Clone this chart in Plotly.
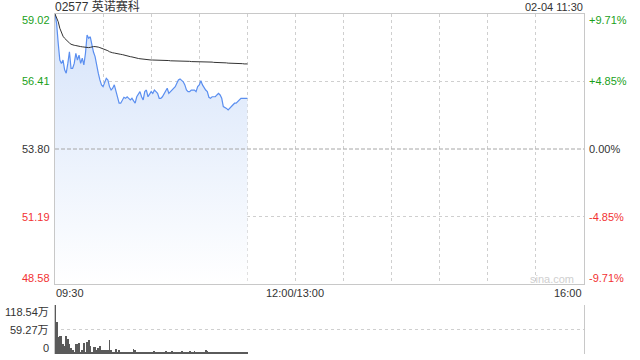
import plotly.graph_objects as go

# ---------------- data ----------------
title_text = "02577 英诺赛科"
date_text = "02-04 11:30"
prev_close = 53.80
price_ticks = [59.02, 56.41, 53.80, 51.19, 48.58]
pct_labels = ["+9.71%", "+4.85%", "0.00%", "-4.85%", "-9.71%"]
vol_ticks = [118.54, 59.27, 0]
vol_labels = ["118.54万", "59.27万", "0"]
time_labels = ["09:30", "12:00/13:00", "16:00"]
time_label_minutes = [0, 150, 330]

price = [
    59.02, 58.66, 57.89, 57.24, 57.11, 57.24, 56.86, 56.73, 57.11, 57.56,
    56.92, 56.92, 57.11, 57.50, 57.24, 57.43, 57.11, 57.31, 57.05, 57.50,
    58.21, 58.08, 58.14, 57.76, 57.55, 57.37, 56.98, 56.73, 56.47, 56.28,
    56.21, 56.40, 56.53, 56.47, 56.21, 56.08, 56.15, 56.28, 56.02, 55.76,
    55.57, 55.57, 55.70, 55.80, 55.76, 55.82, 55.76, 55.70, 55.76, 55.66,
    55.57, 55.82, 55.95, 56.02, 55.82, 55.70, 56.02, 56.08, 55.82, 55.95,
    56.02, 55.95, 56.08, 56.02, 55.95, 55.76, 55.76, 55.82, 55.95, 56.08,
    56.15, 55.95, 56.02, 56.08, 56.15, 56.21, 56.34, 56.47, 56.51, 56.47,
    56.40, 56.28, 56.08, 56.02, 56.02, 56.08, 56.08, 56.08, 56.02, 56.21,
    56.28, 56.44, 56.28, 56.15, 56.08, 56.02, 55.80, 55.76, 55.82, 55.82,
    55.82, 55.89, 55.95, 55.89, 55.76, 55.44, 55.41, 55.37, 55.31, 55.37,
    55.44, 55.50, 55.57, 55.57, 55.63, 55.70, 55.76, 55.76, 55.76, 55.76,
    55.76,
]

avg_price = [
    59.02, 58.90, 58.72, 58.47, 58.27, 58.16, 58.08, 58.01, 57.95, 57.90,
    57.85, 57.82, 57.81, 57.80, 57.78, 57.77, 57.76, 57.75, 57.74, 57.73,
    57.72, 57.72, 57.73, 57.75, 57.76, 57.76, 57.76, 57.74, 57.72, 57.70,
    57.67, 57.65, 57.63, 57.60, 57.56, 57.53, 57.52, 57.51, 57.49, 57.48,
    57.47, 57.46, 57.45, 57.43, 57.42, 57.40, 57.39, 57.37, 57.36, 57.34,
    57.33, 57.31, 57.30, 57.29, 57.28, 57.27, 57.26, 57.25, 57.25, 57.24,
    57.24, 57.24, 57.24, 57.23, 57.23, 57.23, 57.23, 57.22, 57.22, 57.22,
    57.22, 57.22, 57.21, 57.21, 57.21, 57.21, 57.20, 57.20, 57.20, 57.19,
    57.19, 57.19, 57.19, 57.19, 57.19, 57.18, 57.18, 57.18, 57.18, 57.18,
    57.18, 57.18, 57.18, 57.17, 57.17, 57.17, 57.16, 57.16, 57.16, 57.15,
    57.15, 57.15, 57.14, 57.14, 57.14, 57.13, 57.13, 57.13, 57.12, 57.12,
    57.12, 57.11, 57.11, 57.11, 57.10, 57.10, 57.10, 57.10, 57.09, 57.09,
    57.09,
]

volume = [
    119, 77, 40, 44, 44, 23, 19, 43, 36, 23, 15, 10, 6, 23, 24, 27, 6, 10, 27, 6,
    28, 33, 19, 6, 17, 17, 10, 15, 19, 10, 10, 9, 10, 10, 35, 9, 6, 4, 12, 6,
    9, 4, 6, 6, 4, 4, 4, 6, 4, 12, 9, 4, 6, 3, 6, 4, 5, 4, 3, 4,
    6, 5, 8, 4, 5, 3, 6, 4, 5, 7, 3, 5, 4, 8, 6, 3, 5, 4, 6, 8,
    5, 4, 3, 6, 7, 5, 4, 8, 6, 5, 4, 3, 5, 6, 9, 7, 5, 4, 6, 3,
    5, 4, 6, 5, 3, 4, 6, 5, 4, 3, 5, 4, 6, 5, 3, 4, 5, 4, 3, 6, 4,
]

# minutes since 09:30 (trading-time axis, lunch removed)
minutes = list(range(len(price)))

# ---------------- style ----------------
FONT = "Liberation Sans, Arial, Noto Sans CJK SC, sans-serif"
GREEN = "#1a9f1a"
RED = "#f23232"
DARK = "#333333"
GRID = "#cfcfcf"
BORDER = "#c8c8c8"

fig = go.Figure()

fig.add_trace(go.Scatter(
    x=minutes, y=price, mode="lines",
    line=dict(color="#5b8ff0", width=1.2),
    fill="tozeroy",
    fillgradient=dict(type="vertical", start=price_ticks[-1], stop=price_ticks[0],
                      colorscale=[[0, "#ffffff"], [1, "#d5e3fa"]]),
    xaxis="x", yaxis="y", hoverinfo="skip",
))
fig.add_trace(go.Scatter(
    x=minutes, y=avg_price, mode="lines",
    line=dict(color="#333333", width=1),
    xaxis="x", yaxis="y", hoverinfo="skip",
))
fig.add_trace(go.Bar(
    x=minutes, y=volume, width=0.55,
    marker=dict(color="#5a5a5a", line=dict(width=0)),
    xaxis="x2", yaxis="y2", hoverinfo="skip",
))

W, H = 640, 360
x_dom = [55 / W, 584 / W]
fig.update_layout(
    width=W, height=H,
    margin=dict(l=0, r=0, t=0, b=0),
    paper_bgcolor="white", plot_bgcolor="white",
    showlegend=False,
    font=dict(family=FONT, size=11, color=DARK),
    xaxis=dict(domain=x_dom, range=[0, 330], tickvals=list(range(0, 331, 30)),
               showticklabels=False, ticks="", showgrid=True, gridcolor=GRID,
               griddash="dot", gridwidth=1, zeroline=False,
               showline=True, mirror=True, linecolor=BORDER, linewidth=1),
    yaxis=dict(domain=[1 - 284 / H, 1 - 14 / H], range=[price_ticks[-1], price_ticks[0]],
               tickvals=[price_ticks[1], price_ticks[3]], showticklabels=False, ticks="",
               showgrid=True, gridcolor=GRID, griddash="dot", gridwidth=1, zeroline=False,
               showline=True, mirror=True, linecolor=BORDER, linewidth=1),
    xaxis2=dict(domain=x_dom, range=[0, 330], anchor="y2", showticklabels=False,
                ticks="", showgrid=False, zeroline=False, showline=False),
    yaxis2=dict(domain=[1 - 354 / H, 1 - 305 / H], range=[0, vol_ticks[0]], anchor="x2",
                tickvals=vol_ticks, showticklabels=False, ticks="",
                showgrid=True, gridcolor=GRID, griddash="dot", gridwidth=1, zeroline=False,
                showline=True, mirror=True, linecolor=BORDER, linewidth=1),
    bargap=0,
)

# previous close dashed line
fig.add_shape(type="line", xref="x domain", yref="y", x0=0, x1=1, y0=prev_close, y1=prev_close,
              line=dict(color="#a6a6a6", width=1, dash="4px,2px"))

ann = []
colors = [GREEN, GREEN, DARK, RED, RED]
shifts = [-6, 0, 0, 0, 6]
for v, c, s, pl in zip(price_ticks, colors, shifts, pct_labels):
    ann.append(dict(x=0, xref="x domain", y=v, yref="y", text=f"{v:.2f}", showarrow=False,
                    xanchor="right", yanchor="middle", xshift=-3, yshift=s,
                    font=dict(color=c, size=11)))
    ann.append(dict(x=1, xref="x domain", y=v, yref="y", text=pl, showarrow=False,
                    xanchor="left", yanchor="middle", xshift=3, yshift=s,
                    font=dict(color=c, size=11)))

vshifts = [-7, 0, 6]
for v, t, s in zip(vol_ticks, vol_labels, vshifts):
    ann.append(dict(x=0, xref="x2 domain", y=v, yref="y2", text=t, showarrow=False,
                    xanchor="right", yanchor="middle", xshift=-4, yshift=s,
                    font=dict(color=DARK, size=11)))

anchors = ["left", "center", "right"]
for m, t, a in zip(time_label_minutes, time_labels, anchors):
    ann.append(dict(x=m, xref="x", y=0, yref="y domain", text=t, showarrow=False,
                    xanchor=a, yanchor="middle", yshift=-9, xshift=-1 if a == "left" else 0,
                    font=dict(color=DARK, size=11)))

ann.append(dict(x=0, xref="x domain", y=1, yref="y domain", text=title_text, showarrow=False,
                xanchor="left", yanchor="middle", yshift=7, xshift=-2,
                font=dict(color=DARK, size=12)))
ann.append(dict(x=1, xref="x domain", y=1, yref="y domain", text=date_text, showarrow=False,
                xanchor="right", yanchor="middle", yshift=7, xshift=1,
                font=dict(color=DARK, size=11)))
ann.append(dict(x=0.94, xref="x domain", y=0, yref="y domain", text="sina.com", showarrow=False,
                xanchor="center", yanchor="middle", yshift=5,
                font=dict(color="#cfcfcf", size=11)))

fig.update_layout(annotations=ann)
fig.write_html("out.html")
